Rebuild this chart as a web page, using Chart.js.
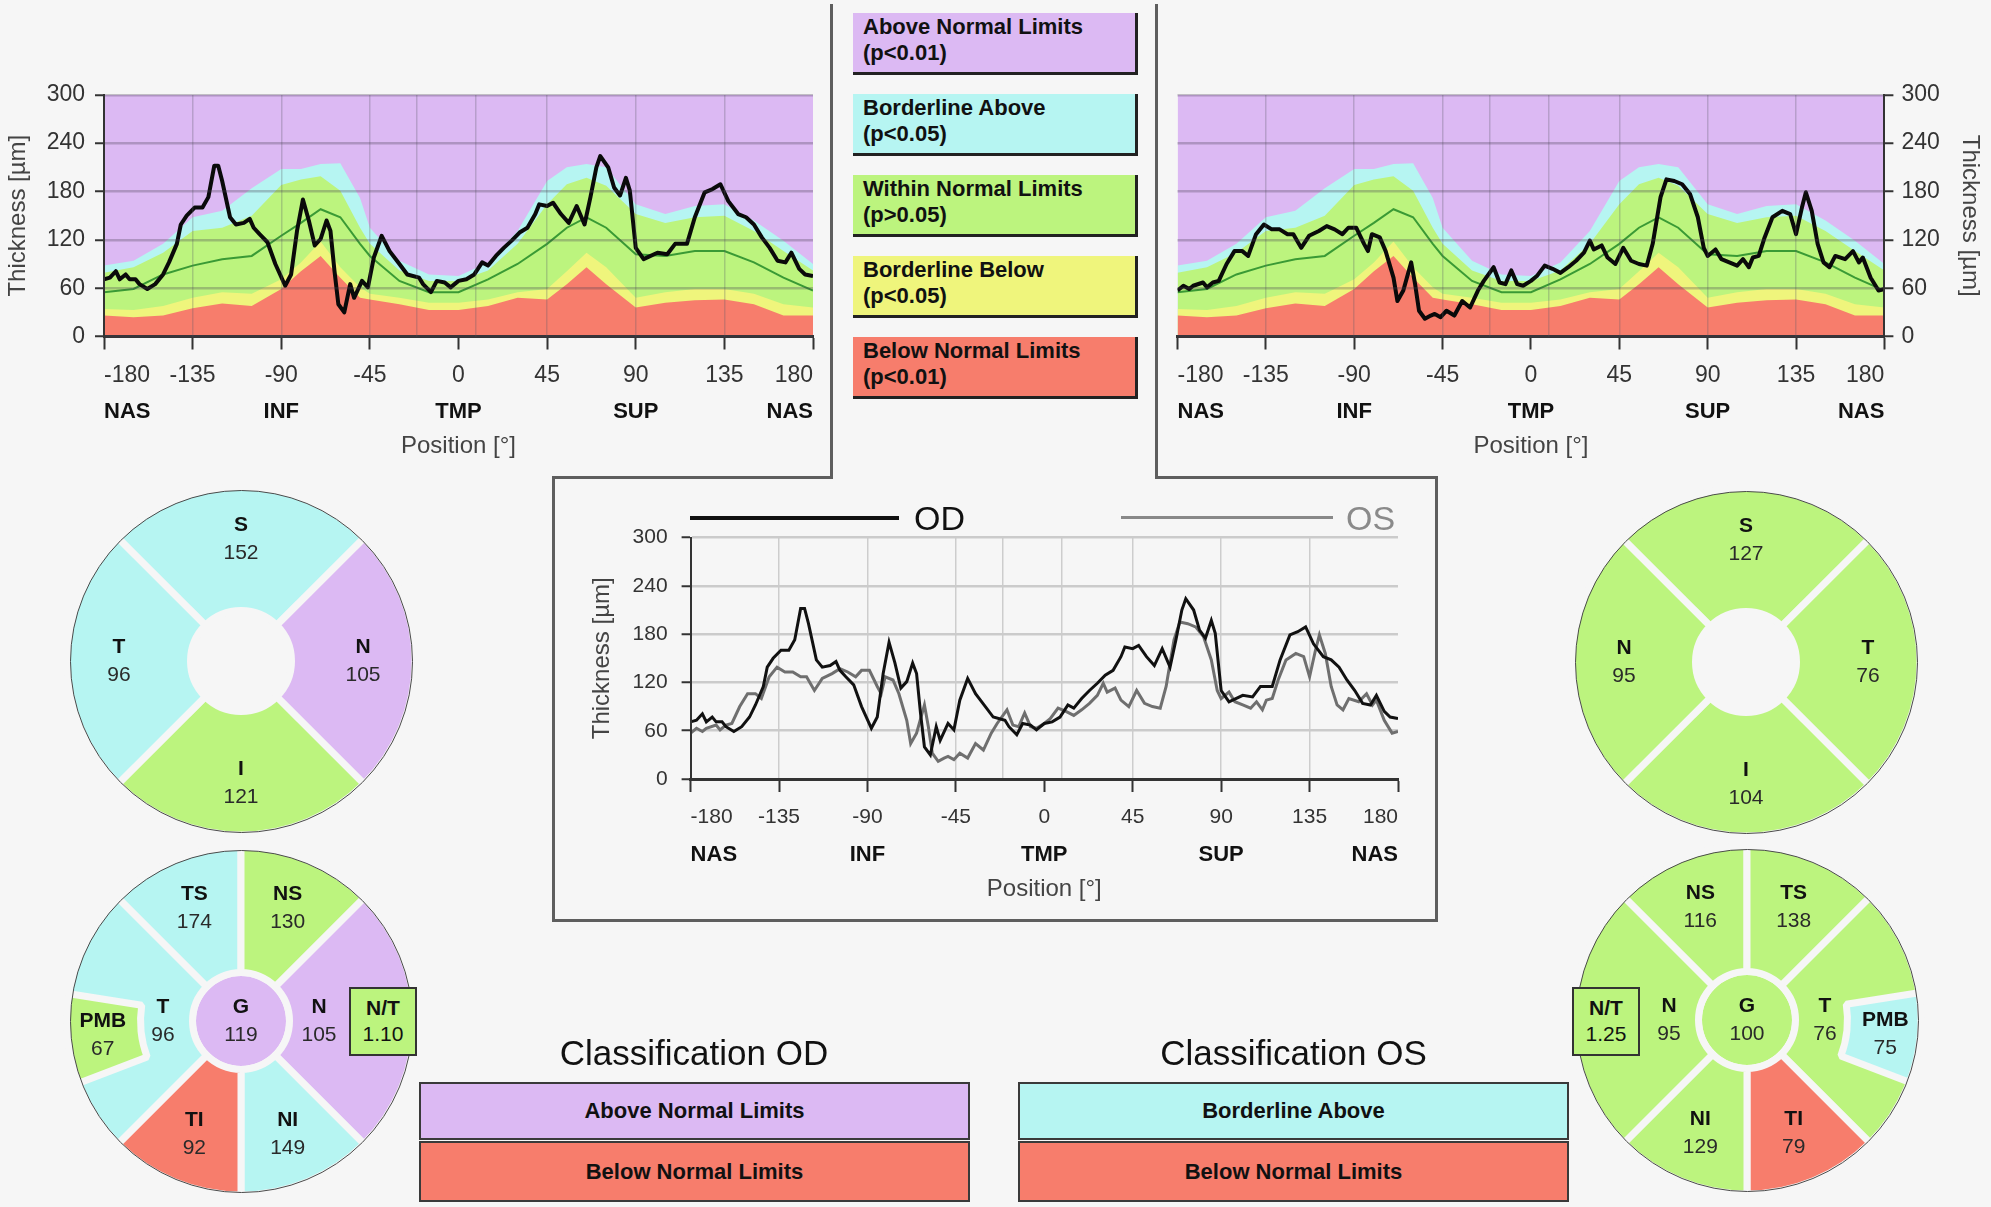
<!DOCTYPE html>
<html>
<head>
<meta charset="utf-8">
<script src="https://cdn.jsdelivr.net/npm/chart.js@4.4.1/dist/chart.umd.min.js"></script>
<style>
  html, body { margin: 0; padding: 0; background: #f6f6f6; overflow: hidden; }
  body { width: 1991px; height: 1207px; position: relative; font-family: 'Liberation Sans', Arial, sans-serif; color: #111; }
  * { box-sizing: border-box; }
  canvas { position: absolute; }
  .ln { position: absolute; background: #5e5e5e; }
  .key { position: absolute; left: 853px; width: 285px; height: 62px; padding: 1px 0 0 10px;
         border-right: 3px solid #222; border-bottom: 3px solid #222; font-weight: bold; font-size: 22px; line-height: 26px; }
  .cls { position: absolute; border: 2px solid #3a3a3a; font-weight: bold; font-size: 22px; text-align: center; }
  .ttl { position: absolute; font-size: 35px; text-align: center; line-height: 40px; }
  .ring { position: absolute; border: 1.5px solid #4a4a4a; border-radius: 50%; pointer-events: none; }
  .nt { position: absolute; width: 68px; height: 69px; border: 2px solid #333; text-align: center;
        font-size: 21px; line-height: 26px; padding-top: 6px; }
  .nt b { display: block; }
</style>
</head>
<body>
<div id="keys"></div>

<div class="ln" style="left:830px;top:4px;width:3px;height:475px"></div>
<div class="ln" style="left:1155px;top:4px;width:3px;height:475px"></div>
<div class="ln" style="left:552px;top:476px;width:281px;height:3px"></div>
<div class="ln" style="left:1155px;top:476px;width:283px;height:3px"></div>
<div class="ln" style="left:552px;top:476px;width:3px;height:446px"></div>
<div class="ln" style="left:1435px;top:476px;width:3px;height:446px"></div>
<div class="ln" style="left:552px;top:919px;width:886px;height:3px"></div>

<canvas id="odBand" width="830" height="390" style="left:0;top:71px"></canvas>
<canvas id="osBand" width="831" height="388" style="left:1160px;top:73px"></canvas>
<canvas id="both" width="832" height="393" style="left:588px;top:511px"></canvas>

<div style="position:absolute;left:690px;top:516px;width:209px;height:4px;background:#111"></div>
<div style="position:absolute;left:914px;top:498px;font-size:34px;line-height:40px;color:#111">OD</div>
<div style="position:absolute;left:1121px;top:516px;width:212px;height:3px;background:#888"></div>
<div style="position:absolute;left:1346px;top:498px;font-size:34px;line-height:40px;color:#8a8a8a">OS</div>

<canvas id="odQuad" width="360" height="360" style="left:61px;top:481px"></canvas>
<canvas id="odSect" width="360" height="360" style="left:61px;top:841px"></canvas>
<canvas id="odPmb" width="360" height="360" style="left:61px;top:841px"></canvas>
<canvas id="osQuad" width="360" height="360" style="left:1566px;top:482px"></canvas>
<canvas id="osSect" width="360" height="360" style="left:1567px;top:840px"></canvas>
<canvas id="osPmb" width="360" height="360" style="left:1567px;top:840px"></canvas>
<div class="ring" style="left:69.5px;top:489.5px;width:343px;height:343px"></div>
<div class="ring" style="left:69.5px;top:849.5px;width:343px;height:343px"></div>
<div class="ring" style="left:1574.5px;top:490.5px;width:343px;height:343px"></div>
<div class="ring" style="left:1575.5px;top:848.5px;width:343px;height:343px"></div>

<div id="odNT" class="nt" style="left:349px;top:987px"></div>
<div id="osNT" class="nt" style="left:1572px;top:987px"></div>

<div class="ttl" style="left:419px;top:1033px;width:550px">Classification OD</div>
<div class="ttl" style="left:1018px;top:1033px;width:551px">Classification OS</div>
<div id="odCls"></div>
<div id="osCls"></div>

<script>
// normative percentile curves (µm) along the scan circle
const normPos = [-180, -165, -150, -135, -120, -105, -90, -80, -70, -60, -50, -45, -30, -15, 0, 15, 30, 45, 55, 65, 75, 90, 105, 120, 135, 150, 165, 180];
const normP1  = [26, 24, 26, 35, 41, 38, 59, 81, 100, 73, 48, 46, 40, 33, 33, 38, 48, 46, 65, 86, 65, 36, 42, 45, 46, 40, 26, 26];
const normP5  = [34, 33, 38, 48, 55, 53, 71, 92, 118, 86, 61, 53, 48, 42, 42, 46, 55, 59, 81, 104, 86, 48, 55, 59, 59, 53, 40, 36];
const normP50 = [55, 59, 77, 88, 96, 100, 125, 141, 158, 148, 115, 100, 69, 55, 55, 71, 90, 115, 135, 148, 135, 102, 100, 106, 106, 92, 73, 57];
const normP95 = [79, 86, 104, 131, 135, 150, 188, 195, 199, 181, 135, 115, 82, 69, 69, 82, 115, 164, 189, 197, 187, 152, 141, 148, 150, 131, 106, 82];
const normP99 = [88, 94, 115, 148, 156, 184, 208, 208, 214, 215, 172, 135, 94, 77, 75, 92, 131, 193, 210, 214, 210, 164, 152, 162, 164, 144, 119, 90];

// OD thickness profile
const odPos = [-180, -177, -174, -172, -169, -167, -164, -162, -158, -154,
  -150, -147, -143, -141, -138, -134, -130, -127, -124, -122,
  -120, -116, -113, -109, -106, -104, -101, -97, -93, -88,
  -85, -82, -79, -76, -73, -70, -67, -65, -63, -61,
  -58, -55, -53, -49, -46, -43, -39, -35, -30, -26,
  -20, -18, -14, -11, -7, -4, 0, 4, 8, 12,
  15, 19, 23, 27, 31, 35, 39, 41, 45, 48,
  52, 56, 60, 64, 67, 70, 72, 76, 79, 82,
  85, 87, 90, 94, 101, 106, 110, 116, 120, 125,
  129, 133, 137, 142, 146, 150, 154, 158, 162, 166,
  169, 173, 176, 180];
const odVal = [71, 73, 81, 71, 77, 71, 71, 65, 59, 65,
  77, 92, 115, 139, 150, 160, 160, 173, 212, 212,
  193, 148, 139, 141, 146, 135, 127, 117, 90, 63,
  77, 131, 170, 144, 113, 121, 144, 131, 82, 40,
  30, 65, 48, 69, 61, 98, 125, 106, 90, 77,
  73, 65, 55, 69, 67, 61, 69, 71, 77, 92,
  88, 100, 110, 119, 129, 135, 152, 164, 162, 166,
  152, 141, 162, 139, 173, 210, 224, 210, 185, 175,
  197, 181, 110, 96, 104, 102, 115, 115, 148, 179,
  183, 189, 168, 152, 148, 139, 123, 110, 94, 92,
  104, 84, 77, 75];

// OS thickness profile
const osPos = [-180, -177, -174, -172, -167, -165, -162, -159, -155, -151,
  -147, -144, -140, -136, -132, -128, -124, -121, -117, -113,
  -108, -104, -100, -96, -93, -89, -85, -83, -81, -77,
  -74, -70, -68, -65, -61, -59, -57, -54, -51, -49,
  -46, -43, -39, -35, -31, -27, -24, -19, -16, -13,
  -10, -7, -4, 0, 3, 7, 11, 15, 19, 23,
  27, 30, 32, 36, 39, 43, 47, 51, 55, 59,
  62, 66, 69, 73, 77, 81, 85, 88, 90, 94,
  97, 101, 105, 108, 111, 113, 116, 119, 123, 128,
  132, 135, 138, 140, 143, 146, 149, 152, 155, 160,
  164, 167, 169, 173, 177, 180];
const osVal = [57, 63, 59, 63, 67, 61, 67, 69, 90, 106,
  106, 100, 127, 139, 133, 133, 127, 127, 110, 125,
  131, 137, 133, 127, 135, 135, 115, 106, 127, 123,
  106, 73, 44, 57, 92, 65, 32, 22, 26, 28,
  24, 32, 26, 44, 36, 57, 69, 86, 67, 65,
  82, 65, 63, 69, 75, 88, 84, 79, 86, 94,
  104, 119, 108, 113, 98, 90, 110, 94, 90, 88,
  115, 173, 195, 193, 189, 177, 148, 110, 100, 108,
  96, 92, 88, 96, 86, 98, 100, 123, 148, 156,
  152, 127, 160, 179, 156, 115, 92, 86, 100, 96,
  106, 92, 98, 73, 57, 59];

const regionPos = [-180, -90, 0, 90, 180];
const regionNames = ['NAS', 'INF', 'TMP', 'SUP', 'NAS'];
const gridPos = [-135, -90, -45, -21, 9, 45, 90, 135];

// classification categories
const classKeys = ['an', 'ba', 'wn', 'bb', 'bn'];
const classNames = ['Above Normal Limits', 'Borderline Above', 'Within Normal Limits', 'Borderline Below', 'Below Normal Limits'];
const classP = ['(p<0.01)', '(p<0.05)', '(p>0.05)', '(p<0.05)', '(p<0.01)'];
const classColors = ['#dcb9f3', '#b6f5f2', '#bcf47e', '#eff57c', '#f77d6c'];

// sector averages
const quadSpan = [90, 90, 90, 90];
const sectSpan = [45, 45, 90, 45, 45, 90];
const pmbSpan = 30;
const odQuadNames = ['S', 'N', 'I', 'T'];
const odQuadVals = [152, 105, 121, 96];
const odQuadCls = ['ba', 'an', 'wn', 'ba'];
const osQuadNames = ['S', 'T', 'I', 'N'];
const osQuadVals = [127, 76, 104, 95];
const osQuadCls = ['wn', 'wn', 'wn', 'wn'];
const odSectNames = ['TS', 'NS', 'N', 'NI', 'TI', 'T'];
const odSectVals = [174, 130, 105, 149, 92, 96];
const odSectCls = ['ba', 'wn', 'an', 'ba', 'bn', 'ba'];
const osSectNames = ['NS', 'TS', 'T', 'TI', 'NI', 'N'];
const osSectVals = [116, 138, 76, 79, 129, 95];
const osSectCls = ['wn', 'wn', 'wn', 'bn', 'wn', 'wn'];
const odGlobal = 119, odGlobalCls = 'an';
const osGlobal = 100, osGlobalCls = 'wn';
const odPmb = 67, odPmbCls = 'wn';
const osPmb = 75, osPmbCls = 'ba';
const odNT = '1.10', osNT = '1.25';
const odClass = ['an', 'bn'];
const osClass = ['ba', 'bn'];

const BG = '#f6f6f6';
const col = k => classColors[classKeys.indexOf(k)];
Chart.defaults.font.family = "'Liberation Sans', Arial, sans-serif";

// legend keys and classification boxes
const keys = document.getElementById('keys');
classKeys.forEach((k, i) => {
  const d = document.createElement('div');
  d.className = 'key';
  d.style.top = (13 + i * 81) + 'px';
  d.style.background = classColors[i];
  d.innerHTML = classNames[i] + '<br>' + classP[i];
  keys.appendChild(d);
});
function classBoxes(id, left, list) {
  const host = document.getElementById(id);
  list.forEach((k, i) => {
    const d = document.createElement('div');
    d.className = 'cls';
    d.style.left = left + 'px';
    d.style.top = (i ? 1141 : 1082) + 'px';
    d.style.width = '551px';
    d.style.height = (i ? 61 : 58) + 'px';
    d.style.lineHeight = (i ? 57 : 54) + 'px';
    d.style.background = col(k);
    d.textContent = classNames[classKeys.indexOf(k)];
    host.appendChild(d);
  });
}
classBoxes('odCls', 419, odClass);
classBoxes('osCls', 1018, osClass);
function ntBox(id, val) {
  const d = document.getElementById(id);
  d.style.background = col('wn');
  d.innerHTML = '<b>N/T</b>' + val;
}
ntBox('odNT', odNT);
ntBox('osNT', osNT);

const pts = (xs, ys) => xs.map((x, i) => ({x, y: ys[i]}));

function xScales(opt) {
  return {
    x: {
      type: 'linear', min: -180, max: 180, weight: 0,
      ticks: { stepSize: 45, autoSkip: false, maxRotation: 0, align: 'inner', padding: opt.tickPad,
        font: { size: opt.tickSize }, color: '#333', callback: v => String(v) },
      grid: { drawOnChartArea: false, tickLength: 13, tickColor: '#333', tickWidth: 2 },
      border: { color: '#333', width: 3, z: 1 },
      afterFit: s => { s.height = opt.xH; }
    },
    x2: {
      type: 'linear', min: -180, max: 180, weight: 1,
      afterBuildTicks: s => { s.ticks = regionPos.map(v => ({value: v})); },
      ticks: { autoSkip: false, maxRotation: 0, align: 'inner', padding: opt.regPad,
        font: { size: 22, weight: 'bold' }, color: '#111',
        callback: v => regionNames[regionPos.indexOf(v)] },
      grid: { display: false, drawTicks: false },
      border: { display: false },
      title: { display: true, text: 'Position [°]', font: { size: 24 }, color: '#444', padding: 0 },
      afterFit: s => { s.height = opt.x2H; }
    },
    xg: {
      type: 'linear', min: -180, max: 180, position: 'top',
      afterBuildTicks: s => { s.ticks = gridPos.map(v => ({value: v})); },
      ticks: { display: false },
      grid: { color: opt.vGrid, lineWidth: 1.5, drawTicks: false, z: opt.gridZ },
      border: { display: false },
      afterFit: s => { s.height = 0; }
    }
  };
}

function yScale(opt) {
  return {
    position: opt.right ? 'right' : 'left', min: 0, max: 300,
    ticks: { stepSize: 60, padding: opt.pad, font: { size: opt.tickSize }, color: '#333' },
    grid: { color: opt.hGrid, lineWidth: 2.5, tickLength: 9, tickColor: '#333', tickWidth: 2, z: opt.gridZ },
    border: { color: '#333', width: 2, z: 1 },
    title: { display: true, text: 'Thickness [µm]', font: { size: 24 }, color: '#444', padding: { top: opt.titlePad } },
    afterFit: s => { s.width = opt.w; }
  };
}

function bandChart(id, pos, vals, right) {
  const band = (ys, k) => ({ data: pts(normPos, ys), backgroundColor: col(k), borderWidth: 0, fill: 'origin' });
  return new Chart(document.getElementById(id), {
    type: 'line',
    data: {
      datasets: [
        { data: pts(pos, vals), borderColor: '#0a0a0a', borderWidth: 4, fill: false, borderJoinStyle: 'round' },
        { data: pts(normPos, normP50), borderColor: '#3a9a35', borderWidth: 2, fill: false },
        band(normP1, 'bn'),
        band(normP5, 'bb'),
        band(normP95, 'wn'),
        band(normP99, 'ba'),
        { data: pts([-180, 180], [300, 300]), backgroundColor: col('an'), borderWidth: 0, fill: 'origin' }
      ]
    },
    options: {
      responsive: false, animation: false, events: [],
      elements: { point: { radius: 0 }, line: { tension: 0 } },
      layout: { padding: right ? { left: 17.5 } : { right: 17 } },
      plugins: { legend: { display: false }, tooltip: { enabled: false } },
      scales: Object.assign(
        xScales({ tickPad: 12, tickSize: 23, regPad: 8, xH: 54, x2H: 70.5, vGrid: 'rgba(90,90,100,0.28)', gridZ: 1 }),
        { y: yScale({ right, pad: right ? 8 : 10, tickSize: 23, hGrid: 'rgba(70,60,80,0.3)', gridZ: 1,
                      titlePad: right ? 7 : 4, w: right ? 106.6 : 104 }) })
    }
  });
}

bandChart('odBand', odPos, odVal, false);
bandChart('osBand', osPos, osVal, true);

new Chart(document.getElementById('both'), {
  type: 'line',
  data: {
    datasets: [
      { label: 'OD', data: pts(odPos, odVal), borderColor: '#111', borderWidth: 3, fill: false },
      { label: 'OS', data: pts(osPos, osVal), borderColor: '#6f6f6f', borderWidth: 3, fill: false }
    ]
  },
  options: {
    responsive: false, animation: false, events: [],
    elements: { point: { radius: 0 }, line: { tension: 0 } },
    layout: { padding: { right: 22 } },
    plugins: { legend: { display: false }, tooltip: { enabled: false } },
    scales: Object.assign(
      xScales({ tickPad: 13, tickSize: 21, regPad: 12, xH: 51, x2H: 74, vGrid: '#cdcdcd', gridZ: -1 }),
      { y: yScale({ right: false, pad: 14, tickSize: 21, hGrid: '#cbcbcb', gridZ: -1, titlePad: 0, w: 102.6 }) })
  }
});

// labels inside the sectors, placed from each arc's own geometry
function sectorText(names, values, radii, center) {
  const put = (ctx, x, y, n, v) => {
    ctx.fillStyle = '#111';
    ctx.font = "bold 21px 'Liberation Sans', Arial";
    ctx.fillText(n, x, y - 14);
    ctx.fillStyle = '#2a2a2a';
    ctx.font = "21px 'Liberation Sans', Arial";
    ctx.fillText(String(v), x, y + 14);
  };
  return {
    id: 'sectorText',
    afterDatasetsDraw(chart) {
      const ctx = chart.ctx;
      const arcs = chart.getDatasetMeta(0).data;
      ctx.save();
      ctx.textAlign = 'center';
      ctx.textBaseline = 'middle';
      arcs.forEach((arc, i) => {
        if (!names[i]) return;
        const a = (arc.startAngle + arc.endAngle) / 2;
        put(ctx, arc.x + Math.cos(a) * radii[i], arc.y + Math.sin(a) * radii[i], names[i], values[i]);
      });
      if (center) put(ctx, arcs[0].x, arcs[0].y, center[0], center[1]);
      ctx.restore();
    }
  };
}

const R = 174, BW = 7;
function pie(id, datasets, opts, plugin) {
  return new Chart(document.getElementById(id), {
    type: 'doughnut',
    data: { datasets },
    options: Object.assign({
      responsive: false, animation: false, events: [], radius: R,
      plugins: { legend: { display: false }, tooltip: { enabled: false } }
    }, opts),
    plugins: [plugin]
  });
}

pie('odQuad', [{ data: quadSpan, backgroundColor: odQuadCls.map(col), borderColor: BG, borderWidth: BW }],
  { cutout: (50.5 / R * 100) + '%', rotation: -45 },
  sectorText(odQuadNames, odQuadVals, [122, 122, 122, 122]));
pie('osQuad', [{ data: quadSpan, backgroundColor: osQuadCls.map(col), borderColor: BG, borderWidth: BW }],
  { cutout: (50.5 / R * 100) + '%', rotation: -45 },
  sectorText(osQuadNames, osQuadVals, [122, 122, 122, 122]));

function sectSets(cls, gCls) {
  return [
    { data: sectSpan, backgroundColor: cls.map(col), borderColor: BG, borderWidth: BW, weight: 125.5 },
    { data: [360], backgroundColor: 'rgba(0,0,0,0)', borderWidth: 0, weight: 3.5 },
    { data: [360], backgroundColor: col(gCls), borderWidth: 0, weight: 45 }
  ];
}
pie('odSect', sectSets(odSectCls, odGlobalCls), { cutout: 0, rotation: -45 },
  sectorText(odSectNames, odSectVals, [122, 122, 78, 122, 122, 78], ['G', odGlobal]));
pie('osSect', sectSets(osSectCls, osGlobalCls), { cutout: 0, rotation: -45 },
  sectorText(osSectNames, osSectVals, [122, 122, 78, 122, 122, 78], ['G', osGlobal]));

function pmbSet(cls) {
  return [{ data: [pmbSpan, 360 - pmbSpan], backgroundColor: [col(cls), 'rgba(0,0,0,0)'],
            borderColor: [BG, 'rgba(0,0,0,0)'], borderWidth: [BW, 0] }];
}
pie('odPmb', pmbSet(odPmbCls), { cutout: (100.5 / R * 100) + '%', rotation: 249 },
  sectorText(['PMB'], [odPmb], [139]));
pie('osPmb', pmbSet(osPmbCls), { cutout: (100.5 / R * 100) + '%', rotation: 81 },
  sectorText(['PMB'], [osPmb], [139]));
</script>
</body>
</html>
